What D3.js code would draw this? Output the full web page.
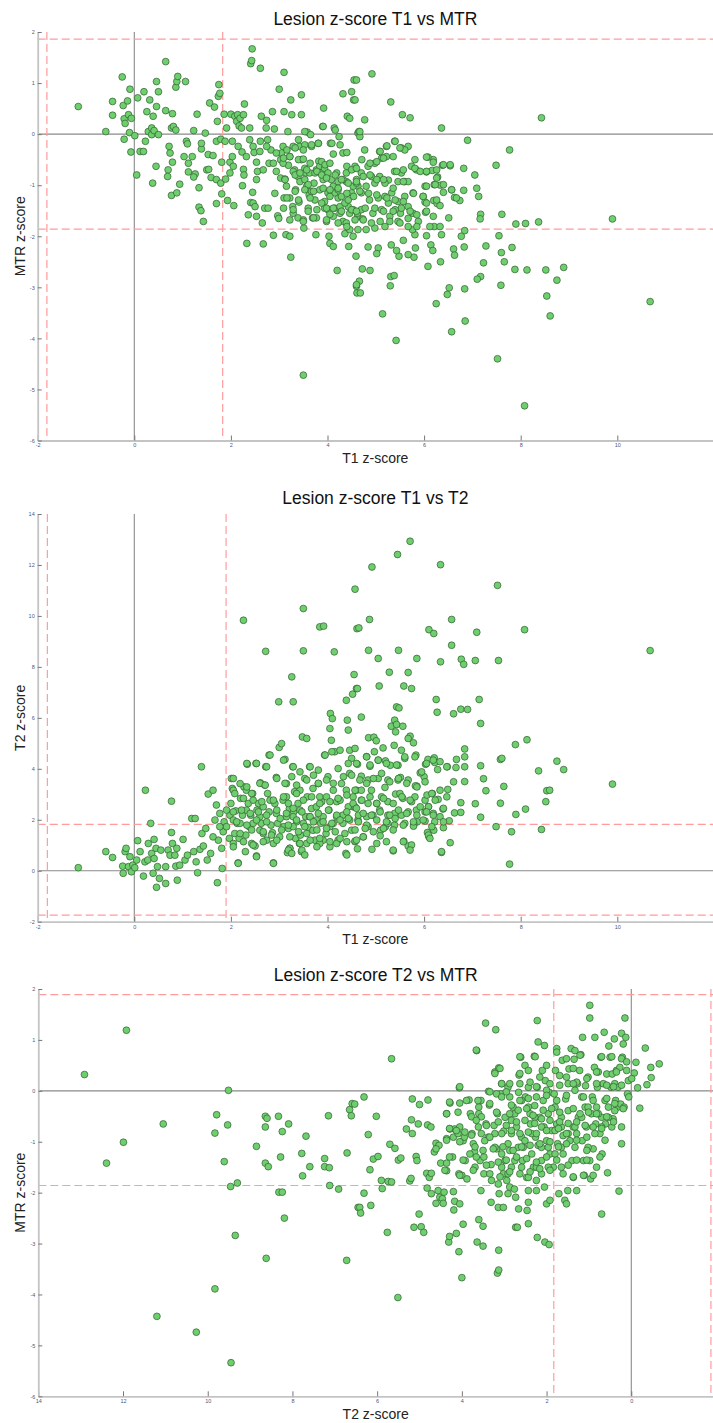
<!DOCTYPE html>
<html>
<head>
<meta charset="utf-8">
<script src="https://cdn.jsdelivr.net/npm/d3@7"></script>
<style>
  body { margin: 0; background: #fff; }
  svg { display: block; font-family: "Liberation Sans", Arial, sans-serif; }
  .tick text { font-size: 5.5px; fill: #50557a; }
  .tick line { stroke: #777; }
  .domain { stroke: #c4c4c4; stroke-width: 1.8; }
</style>
</head>
<body>
<svg id="chart" width="713" height="1423"></svg>
<script>
// titres et labels
const titles = ["Lesion z-score T1 vs MTR", "Lesion z-score T1 vs T2", "Lesion z-score T2 vs MTR"];
const xLabels = ["T1 z-score", "T1 z-score", "T2 z-score"];
const yLabels = ["MTR z-score", "T2 z-score", "MTR z-score"];

// ticks
const ticksT1 = [-2, 0, 2, 4, 6, 8, 10];
const ticksT2x = [14, 12, 10, 8, 6, 4, 2, 0];
const ticksMtr = [2, 1, 0, -1, -2, -3, -4, -5, -6];
const ticksT2y = [14, 12, 10, 8, 6, 4, 2, 0, -2];

// seuils (lignes rouges pointillées)
const t1MtrV = [-1.81, 1.83];
const t1MtrH = [1.86, -1.86];
const t1T2V = [-1.8, 1.9];
const t1T2H = [1.82, -1.74];
const t2MtrV = [1.83, -1.88];
const t2MtrH = [1.89, -1.86];

// points [x, y]
const t1VsMtr = [
[-1.16,0.54],[-0.59,0.05],[-0.45,0.64],[-0.45,0.37],[-0.25,1.12],[-0.23,0.56],[-0.21,0.3],[-0.19,0.21],[-0.21,-0.1],[-0.14,0.65],
[-0.09,0.88],[-0.12,0.38],[-0.06,0.31],[-0.1,0.03],[-0.07,-0.35],[0.01,-0.03],[0.05,-0.8],[0.07,0.71],[0.12,-0.34],[0.19,-0.34],
[0.2,0.83],[0.23,-0.14],[0.26,0.44],[0.32,0.67],[0.29,0.05],[0.36,0.12],[0.36,-0.01],[0.39,0.35],[0.38,-0.96],[0.41,0.07],
[0.46,0.54],[0.46,1.03],[0.5,0.83],[0.45,-0.63],[0.5,-0.01],[0.65,0.46],[0.65,1.42],[0.72,-0.24],[0.74,-0.37],[0.7,-0.7],
[0.69,-0.83],[0.79,0.4],[0.79,-0.55],[0.77,0.12],[0.77,-1.2],[0.81,0.15],[0.86,0.08],[0.88,-1.15],[0.86,0.92],[0.88,1.03],
[0.9,1.13],[0.94,-0.98],[1.03,-0.44],[1.06,1.03],[1.08,-0.14],[1.1,-0.19],[1.12,-0.74],[1.12,-0.57],[1.2,-0.44],[1.23,0.07],
[1.26,-0.78],[1.23,-0.84],[1.3,0.39],[1.34,-1.05],[1.34,-1.43],[1.38,-1.5],[1.43,-1.71],[1.39,-0.29],[1.39,-0.18],[1.47,0.02],
[1.5,-0.7],[1.53,-0.4],[1.54,-0.69],[1.56,0.61],[1.59,-0.85],[1.63,-0.42],[1.66,0.53],[1.7,-1.36],[1.7,-0.89],[1.72,0.25],
[1.74,0.74],[1.75,0.97],[1.77,0.8],[1.7,-0.14],[1.79,-0.1],[1.79,-0.96],[1.81,-0.55],[1.81,-1.17],[1.86,0.39],[1.88,-0.14],
[1.89,-0.88],[1.91,0.12],[1.93,-1.3],[1.98,-0.55],[2.0,0.39],[2.03,-0.14],[2.03,-0.44],[2.06,-1.4],[2.08,0.35],[2.12,0.25],
[2.14,0.38],[2.15,-0.24],[2.17,0.16],[2.19,0.31],[2.22,0.12],[2.23,-0.35],[2.26,0.38],[2.28,0.59],[2.26,-0.69],[2.27,-0.8],
[2.24,-1.01],[2.33,-2.14],[2.36,-1.58],[2.39,0.12],[2.39,-0.11],[2.41,1.38],[2.43,1.44],[2.44,1.67],[2.41,-1.34],[2.45,-1.14],
[2.46,-1.35],[2.48,-0.36],[2.5,-1.42],[2.53,-0.55],[2.53,-1.61],[2.55,-0.73],[2.61,1.29],[2.63,0.35],[2.61,-0.14],[2.65,-1.74],
[2.67,-2.15],[2.7,-1.45],[2.73,0.12],[2.74,0.27],[2.76,-0.11],[2.77,-1.45],[2.79,-0.57],[2.83,-0.31],[2.86,0.44],[2.88,-1.98],
[2.9,0.1],[2.91,-1.16],[2.94,-0.73],[2.97,-1.6],[2.99,-1.65],[3.0,0.88],[3.03,-0.86],[3.03,-0.5],[3.05,-0.37],[3.08,-0.24],
[3.1,1.21],[3.1,-1.25],[3.12,-0.88],[3.1,0.44],[3.14,-1.97],[3.15,-1.02],[3.18,0.05],[3.19,-0.61],[3.22,-2.0],[3.22,-1.25],
[3.24,0.67],[3.24,-2.41],[3.26,0.38],[3.28,-1.42],[3.29,-1.55],[3.29,-0.24],[3.32,-0.7],[3.34,-1.09],[3.36,-0.8],[3.39,-1.64],
[3.41,-1.33],[3.42,-0.24],[3.46,0.77],[3.46,0.38],[3.46,-0.5],[3.5,-1.68],[3.5,-4.72],[3.51,-1.84],[3.53,-0.67],[3.55,-0.76],
[3.57,-1.02],[3.58,0.04],[3.6,-1.45],[3.62,-1.19],[3.63,-0.76],[3.65,-0.01],[3.67,-0.24],[3.69,-1.64],[3.72,-0.96],[3.74,-1.29],
[3.76,-1.97],[3.77,-1.64],[3.81,-0.18],[3.82,-0.53],[3.84,-1.09],[3.88,-0.76],[3.9,0.15],[3.91,-0.89],[3.92,0.51],[3.94,-1.32],
[3.98,-1.71],[4.01,-1.15],[4.03,-2.0],[4.05,-2.14],[4.06,-0.18],[4.08,-0.89],[4.12,-2.2],[4.14,0.12],[4.15,-1.45],[4.19,-0.76],
[4.2,-2.67],[4.22,-1.25],[4.24,-0.05],[4.26,-1.42],[4.32,0.79],[4.32,-0.37],[4.36,-1.95],[4.39,-0.93],[4.41,0.35],[4.43,-1.42],
[4.44,-2.2],[4.46,0.31],[4.5,0.83],[4.54,0.67],[4.55,1.06],[4.57,-0.67],[4.59,-2.39],[4.6,-2.98],[4.61,-3.11],[4.63,0.02],
[4.63,-1.02],[4.63,-1.87],
[3.29,-0.73],[3.39,-0.83],[3.43,-0.93],[3.53,-0.89],[3.6,-0.99],[3.67,-1.12],[3.74,-0.76],[3.77,-0.7],[3.84,-0.63],[3.94,-0.67],
[4.01,-0.76],[4.12,-1.02],[4.15,-1.15],[4.22,-1.09],[4.29,-1.22],[4.36,-1.35],[4.43,-1.29],[4.5,-1.15],[4.53,-1.02],[4.6,-0.89],
[4.39,-0.76],[4.32,-0.89],[4.22,-0.93],[4.05,-1.22],[3.94,-1.45],[3.88,-1.35],[4.26,-1.55],[4.32,-1.71],[4.46,-1.87],[4.53,-2.0],
[4.63,-1.61],[4.46,-1.55],[4.12,-1.61],[4.01,-1.48],[4.05,-1.57],[4.53,-1.48],[4.39,-1.74],[2.46,-0.24],[2.6,-0.34],[2.74,-0.24],
[2.94,-0.37],[3.08,-0.57],[3.22,-0.44],[2.88,-0.57],[2.67,-0.7],[2.53,-0.89],[2.32,-0.44],[2.05,-0.63],[1.98,-0.76],
[4.6,1.06],[4.92,1.18],[4.57,0.67],[4.77,0.28],[4.65,0.05],[4.67,-0.05],[5.31,0.63],[5.55,0.38],[5.71,0.32],[6.36,0.12],
[8.43,0.32],[6.9,-0.12],[7.77,-0.31],[7.49,-0.61],[7.05,-0.8],[6.82,-0.67],[7.09,-1.06],[7.13,-1.22],[6.82,-1.1],[6.63,-1.24],
[6.74,-1.3],[6.57,-1.09],[6.38,-0.61],[6.54,-0.62],[6.4,-1.14],[6.34,-1.0],[6.21,-0.99],[6.19,-0.5],[6.08,-0.45],[6.05,-0.74],
[6.17,-0.71],[6.28,-0.84],[6.02,-1.02],[5.98,-1.22],[6.02,-1.33],[6.2,-1.3],[6.27,-1.36],[6.33,-1.4],[6.03,-1.53],[6.51,-1.64],
[7.17,-1.57],[7.16,-1.66],[7.61,-1.57],[7.9,-1.76],[8.1,-1.75],[8.37,-1.72],[9.9,-1.66],[7.55,-1.99],[7.28,-2.19],[6.84,-1.89],
[6.77,-2.0],[6.83,-2.21],[6.61,-2.25],[6.63,-2.37],[6.34,-2.5],[6.08,-2.59],[6.36,-1.97],[6.21,-1.81],[6.05,-1.99],[6.14,-2.17],
[6.18,-2.28],[5.82,-2.23],[5.79,-2.41],[5.67,-2.36],[5.48,-2.39],[5.43,-2.28],[5.32,-2.17],[5.57,-2.08],[5.81,-1.97],[5.76,-1.87],
[7.23,-2.52],[7.6,-2.32],[7.66,-2.5],[7.82,-2.22],[7.59,-2.96],[7.88,-2.65],[8.13,-2.66],[8.52,-2.66],[8.89,-2.61],[8.75,-2.86],
[8.54,-3.17],[8.61,-3.56],[10.68,-3.28],[7.17,-2.79],[7.1,-2.84],[6.84,-3.03],[6.52,-3.01],[6.48,-3.14],[6.25,-3.32],[6.85,-3.66],
[6.57,-3.87],[5.42,-4.04],[5.14,-3.52],[7.52,-4.4],[8.08,-5.32],[5.31,-2.79],[5.38,-2.77],[5.3,-2.97],[4.88,-2.67],[4.72,-2.64],
[4.66,-2.88],[4.68,-3.11],[4.6,-2.95],[4.84,-2.21],[5.05,-2.23],[5.02,-2.34],[5.29,-1.61],[5.46,-1.71],[5.67,-1.65],[5.88,-1.71],
[5.77,-1.55],[5.51,-1.55],[5.19,-1.81],[4.98,-1.84],[4.8,-1.87],[4.73,-1.66],[4.62,-1.55],[4.87,-1.29],[5.05,-1.25],[5.19,-1.22],
[5.26,-1.35],[5.46,-1.32],[5.53,-1.45],[5.4,-1.48],[5.67,-1.42],[5.77,-1.15],[5.6,-1.22],[5.12,-1.48],[4.94,-1.55],[4.7,-1.48],
[4.7,-1.15],[4.8,-1.02],[4.98,-0.96],[4.91,-0.83],[4.7,-0.76],[4.84,-0.63],[4.98,-0.57],[5.12,-0.47],[5.22,-0.44],[5.08,-0.34],
[5.22,-0.24],[5.39,-0.14],[5.53,-0.27],[5.67,-0.24],[5.6,-0.31],[5.36,-0.44],[5.39,-0.73],[5.53,-0.76],[5.46,-0.93],[5.6,-0.93],
[5.67,-0.93],[5.74,-0.63],[5.81,-0.5],[5.84,-0.7],[5.26,-0.9],[5.19,-0.96],[5.08,-0.83],[5.33,-1.15],[4.6,-0.96],[4.57,-0.63],
[4.77,-0.31],
[3.4,-0.11],[3.53,-0.21],[3.67,-0.21],[3.81,-0.18],[3.16,-0.31],[3.33,-0.27],[3.5,-0.31],[4.09,-0.18],[4.26,-0.21],[4.4,-0.36],
[4.12,-0.39],[5.09,-0.34],[5.23,-0.23],[5.4,-0.14],[5.5,-0.27],[6.05,-0.45],[6.19,-0.55],[3.09,-0.47],[3.22,-0.44],[3.4,-0.5],
[3.5,-0.49],[3.64,-0.57],[3.88,-0.54],[3.95,-0.6],[4.05,-0.57],[4.4,-0.63],[4.5,-0.7],[4.6,-0.67],[4.71,-0.5],[4.88,-0.57],
[5.02,-0.54],[5.16,-0.47],[5.81,-0.67],[5.92,-0.73],[5.43,-0.73],[5.57,-0.7],[6.05,-0.73],[6.26,-0.7],[6.4,-0.6],[6.54,-0.6],
[3.12,-0.89],[3.33,-0.8],[3.43,-0.76],[3.57,-0.7],[3.78,-0.73],[3.88,-0.8],[3.98,-0.86],[4.16,-0.8],[4.29,-0.89],[4.43,-0.96],
[4.6,-0.93],[4.74,-0.83],[4.88,-0.8],[5.02,-0.89],[5.16,-0.89],[5.36,-1.06],[5.57,-0.93],[6.26,-0.86],[6.23,-0.99],[6.4,-0.99],
[6.57,-1.09],[6.05,-1.02],[3.16,-1.25],[3.33,-1.12],[3.53,-1.09],[3.71,-1.12],[3.91,-1.06],[4.05,-1.09],[4.22,-1.06],[4.4,-1.16],
[4.54,-1.22],[4.67,-1.12],[4.85,-1.16],[5.02,-1.19],[5.23,-1.25],[5.4,-1.29],[5.57,-1.32],[5.78,-1.16],[5.98,-1.22],[6.26,-1.29],
[6.05,-1.35],[6.67,-1.25],[3.64,-1.25],[3.4,-1.29],[3.09,-1.45],[3.29,-1.48],[3.6,-1.51],[3.78,-1.48],[3.98,-1.45],[4.12,-1.45],
[4.29,-1.51],[4.5,-1.48],[4.6,-1.51],[4.78,-1.45],[4.98,-1.45],[5.16,-1.51],[5.36,-1.51],[5.71,-1.51],[5.85,-1.58],[6.05,-1.51],
[6.19,-1.61],[3.22,-1.68],[3.5,-1.71],[3.71,-1.64],[3.98,-1.68],[4.22,-1.74],[4.4,-1.81],[4.57,-1.68],[4.74,-1.68],[4.91,-1.74],
[5.09,-1.71],[5.29,-1.71],[5.5,-1.74],[5.67,-1.81],[5.85,-1.81],[6.12,-1.81],[6.33,-1.81],[3.91,0.15],[4.16,0.08],[4.67,0.05],
[3.53,0.05]
];

const t1VsT2 = [
[-1.16,0.12],[-0.59,0.75],[-0.45,0.52],[-0.23,-0.1],[-0.24,0.18],[-0.19,0.75],[-0.17,0.88],[-0.12,0.16],[-0.09,0.55],[-0.06,-0.04],
[-0.03,0.22],[0.01,0.12],[0.05,0.42],[0.07,1.18],[0.12,0.75],[0.19,-0.21],[0.22,0.35],[0.23,3.16],[0.29,1.07],[0.28,0.42],
[0.34,1.86],[0.36,0.68],[0.41,0.48],[0.39,-0.1],[0.41,1.23],[0.45,0.88],[0.46,-0.65],[0.48,0.16],[0.52,-0.3],[0.55,0.81],
[0.65,-0.5],[0.65,0.16],[0.7,0.81],[0.74,0.61],[0.77,2.73],[0.77,1.5],[0.79,1.07],[0.84,0.61],[0.88,0.88],[0.86,0.18],
[0.89,-0.37],[0.94,0.22],[1.01,1.23],[1.05,0.42],[1.1,0.61],[1.19,2.05],[1.26,2.05],[1.23,0.75],[1.28,0.35],[1.31,-0.08],
[1.36,0.84],[1.39,4.08],[1.4,1.46],[1.43,0.97],[1.48,1.66],[1.51,0.42],[1.53,3.01],[1.58,0.68],[1.63,3.16],[1.67,1.99],
[1.7,2.58],[1.72,-0.47],[1.74,1.2],[1.77,2.25],[1.81,0.88],[1.82,0.09],[1.84,1.53],[1.86,1.92],[1.91,1.73],[1.97,1.27],
[1.98,2.18],[2.0,2.64],[2.01,3.62],[2.03,3.23],[2.05,1.07],[2.08,1.46],[2.1,2.35],[2.13,1.86],[2.15,0.31],[2.17,1.27],
[2.2,2.84],[2.24,2.18],[2.26,9.83],[2.27,3.29],[2.3,0.75],[2.31,1.4],[2.34,4.18],[2.36,2.64],[2.38,1.73],[2.41,2.18],
[2.43,1.07],[2.45,3.03],[2.47,1.01],[2.5,0.97],[2.52,4.21],[2.53,0.58],[2.54,2.38],[2.57,2.64],[2.6,1.59],[2.61,3.45],
[2.63,1.86],[2.67,1.46],[2.72,8.61],[2.7,3.36],[2.72,4.08],[2.74,1.2],[2.76,3.03],[2.79,4.54],[2.79,2.31],[2.83,1.79],
[2.86,1.49],[2.88,0.31],[2.91,2.64],[2.94,3.66],[2.97,1.86],[2.99,6.63],[3.0,4.84],[3.05,4.99],[3.08,2.77],[3.1,1.73],
[3.12,4.37],[3.15,3.42],[3.17,0.71],[3.19,1.66],[3.21,2.44],[3.22,0.88],[3.26,7.61],[3.28,4.08],[3.29,6.63],[3.3,2.31],
[3.32,3.1],[3.34,1.27],[3.36,1.92],[3.39,2.64],[3.42,1.07],[3.44,1.4],[3.46,0.75],[3.5,10.29],[3.5,8.63],[3.48,5.25],
[3.57,5.19],[3.53,3.62],[3.55,2.12],[3.58,2.9],[3.6,1.7],[3.63,4.08],[3.67,2.44],[3.7,3.23],[3.74,1.2],[3.77,1.99],
[3.81,3.42],[3.84,9.57],[3.86,1.86],[3.88,2.71],[3.92,9.6],[3.94,4.54],[3.97,1.46],[4.01,3.69],[4.03,2.38],[4.05,5.58],
[4.06,6.17],[4.08,5.12],[4.1,5.97],[4.12,1.86],[4.14,8.59],[4.15,4.67],[4.19,2.71],[4.22,1.2],[4.26,4.73],[4.29,3.42],
[4.32,2.18],[4.38,0.68],[4.39,6.69],[4.41,5.91],[4.43,5.52],[4.46,4.73],[4.46,3.82],[4.5,4.41],[4.52,6.93],[4.55,7.7],
[4.57,11.05],[4.6,7.15],[4.61,9.5],[4.57,1.14],[4.6,3.16],[4.53,2.51],[4.63,1.99],
[2.05,3.16],[2.19,3.42],[2.32,3.16],[2.46,2.77],[2.67,2.51],[2.81,2.77],[2.94,2.25],[3.15,2.9],[3.29,2.12],[3.43,2.38],
[3.5,1.86],[3.63,2.12],[3.77,2.51],[3.84,2.9],[3.91,2.12],[4.05,1.73],[4.19,2.12],[4.32,1.86],[4.46,1.99],[4.53,2.9],
[4.39,3.16],[4.26,2.77],[4.12,3.16],[3.98,2.9],[3.91,1.2],[3.7,1.59],[3.57,1.07],[3.43,3.16],[3.29,1.73],[3.15,2.12],
[3.01,1.33],[2.88,1.07],[2.6,2.12],[2.46,1.86],[2.32,2.38],[2.19,1.86],[2.05,1.99],[1.91,2.38],[1.77,1.73],[1.63,1.33],
[4.43,2.51],[4.5,1.59],[4.19,1.07],[4.05,0.94],[3.84,1.07],
[5.71,12.93],[5.45,12.41],[4.92,11.92],[6.34,12.01],[7.52,11.2],[4.87,9.86],[6.57,9.86],[4.65,9.53],[6.1,9.46],[6.2,9.31],
[7.09,9.36],[8.08,9.46],[6.57,8.85],[4.85,8.65],[5.47,8.65],[10.68,8.64],[5.05,8.33],[5.85,8.33],[6.34,8.2],[6.77,8.3],
[6.82,8.1],[7.06,8.25],[7.54,8.25],[5.28,7.79],[5.67,7.78],[4.62,7.15],[5.07,7.25],[5.58,7.25],[5.74,7.15],[6.25,6.72],
[7.14,6.72],[6.27,6.22],[6.61,6.16],[6.76,6.34],[6.9,6.33],[7.17,5.78],[4.7,6.03],[5.43,6.43],[5.48,6.39],[5.39,5.91],
[5.32,5.67],[5.43,5.74],[5.56,5.67],[5.41,5.45],[4.85,5.22],[4.96,5.24],[5.71,5.28],[5.67,5.19],[5.78,5.02],[5.01,5.1],
[7.89,4.95],[8.13,5.14],[4.57,4.8],[5.15,4.82],[5.38,4.92],[5.53,4.73],[5.83,4.54],[5.6,4.41],[4.81,4.48],[4.97,4.67],
[5.05,4.34],[5.2,4.31],[5.3,4.14],[5.46,4.14],[4.88,4.1],[4.62,4.18],[6.03,4.18],[6.08,4.37],[6.21,4.43],[6.28,3.97],
[6.22,4.25],[6.48,4.08],[6.66,4.05],[6.67,4.37],[6.84,4.78],[6.84,4.47],[6.84,4.08],[7.17,4.12],[7.58,4.37],[7.61,4.41],
[8.75,4.3],[8.37,3.92],[8.89,3.97],[9.9,3.4],[7.23,3.61],[7.65,3.31],[7.28,3.14],[6.61,3.49],[6.84,3.5],[6.49,3.19],
[6.0,3.69],[5.92,3.84],[5.85,3.32],[5.82,3.33],[5.67,3.56],[5.51,3.66],[5.46,3.56],[5.25,3.56],[5.05,3.62],[4.84,3.56],
[4.7,3.71],[4.7,3.16],[4.57,3.16],[4.91,3.16],[5.19,3.27],[5.12,2.9],[5.25,2.71],[5.41,3.01],[5.5,3.03],[5.56,2.84],
[5.74,2.71],[5.81,2.9],[6.02,2.77],[6.06,2.97],[6.17,3.03],[6.29,2.8],[6.39,2.42],[6.09,2.51],[6.02,2.31],[6.19,2.25],
[5.84,2.38],[5.67,2.31],[5.53,2.18],[5.39,2.25],[5.25,2.18],[5.08,2.38],[4.94,2.18],[4.81,2.12],[4.64,2.18],[4.57,2.51],
[4.84,2.64],[4.7,2.77],[5.02,2.64],[6.63,2.27],[6.76,2.29],[6.76,2.67],[7.06,2.63],[7.17,2.1],[7.58,2.65],[7.9,2.21],
[8.1,2.42],[8.52,2.71],[8.54,3.14],[8.6,3.16],[7.49,1.73],[7.81,1.53],[8.43,1.62],[7.77,0.26],[6.54,1.1],[6.36,0.72],
[6.4,1.69],[6.2,1.59],[6.07,1.5],[6.1,1.33],[6.02,1.95],[6.22,1.92],[6.52,1.96],[5.86,1.92],[5.79,1.82],[5.78,1.75],
[5.58,1.16],[5.67,0.97],[5.36,0.78],[4.92,0.84],[4.62,0.86],[4.57,1.16],[4.84,1.73],[5.1,1.59],[5.2,1.73],[5.09,1.37],
[4.74,1.33],[5.39,1.79],[5.6,1.86],[5.25,1.86],
[2.33,4.21],[2.53,4.21],[2.74,4.08],[2.81,4.54],[3.09,4.34],[3.29,4.08],[3.43,3.88],[3.64,4.08],[3.81,3.95],[3.95,4.54],
[4.09,4.67],[4.22,4.01],[4.43,4.21],[4.6,4.21],[4.81,4.47],[4.88,4.15],[5.05,4.34],[5.22,4.21],[5.43,4.15],[5.6,4.47],
[5.81,4.47],[5.95,3.88],[6.05,4.21],[6.19,4.34],[6.33,4.28],[6.47,4.08],[2.05,3.62],[2.33,3.29],[2.6,3.43],[2.71,3.36],
[2.95,3.62],[3.12,3.43],[3.26,3.69],[3.36,3.36],[3.57,3.56],[3.71,3.75],[3.81,3.43],[3.98,3.56],[4.12,3.43],[4.33,3.69],
[4.5,3.75],[4.67,3.56],[4.81,3.43],[4.95,3.62],[5.12,3.82],[5.29,3.49],[5.47,3.62],[5.64,3.43],[5.85,3.29],[6.02,3.49],
[6.16,3.03],[6.33,3.16],[6.47,2.9],[2.08,3.03],[2.26,2.84],[2.43,3.03],[2.64,2.71],[2.88,2.77],[3.09,2.9],[3.19,2.64],
[3.36,3.03],[3.5,2.77],[3.67,2.9],[3.84,2.64],[4.05,2.71],[4.22,2.84],[4.4,2.97],[4.53,2.64],[4.71,2.77],[4.88,2.9],
[5.02,2.64],[5.16,2.84],[5.36,2.64],[5.54,2.9],[5.71,2.77],[5.92,2.51],[6.09,2.51],[6.23,2.77],[6.4,2.45],[2.05,2.31],
[2.22,2.38],[2.4,2.25],[2.57,2.31],[2.74,2.18],[2.95,2.38],[3.15,2.25],[3.29,2.45],[3.47,2.31],[3.64,2.12],[3.81,2.25],
[4.02,2.38],[4.19,2.18],[4.4,2.31],[4.6,2.45],[4.74,2.25],[4.91,2.18],[5.09,2.31],[5.29,2.18],[5.47,2.38],[5.64,2.25],
[5.85,2.18],[6.05,2.31],[6.19,2.18],[6.33,2.12],[2.12,1.92],[2.33,1.79],[2.53,1.99],[2.74,1.92],[3.02,2.05],[3.19,1.79],
[3.36,1.99],[3.53,1.73],[3.71,1.92],[3.91,1.92],[4.09,1.86],[4.26,1.99],[4.43,2.05],[4.64,1.92],[4.81,1.79],[5.02,1.99],
[5.22,1.92],[5.4,2.05],[5.57,1.79],[5.78,1.92],[5.98,1.99],[6.16,1.73],[6.4,1.92],[2.19,1.46],[2.43,1.6],[2.67,1.53],
[2.84,1.4],[3.05,1.6],[3.22,1.33],[3.4,1.53],[3.57,1.46],[3.78,1.6],[3.98,1.66],[4.16,1.53],[4.36,1.46],[4.57,1.6],
[4.78,1.66],[4.95,1.53],[5.16,1.66],[5.36,1.6],[6.09,1.4],[2.05,0.94],[2.26,1.14],[2.46,1.01],[2.67,1.14],[2.95,1.2],
[3.22,0.88],[3.43,1.07],[3.64,1.2],[3.84,1.27],[4.05,1.14],[4.26,1.27],[4.4,1.14],[4.6,1.2],[4.74,1.33],[5.02,1.07],
[5.22,1.14],[5.57,1.14],[5.74,1.01],[6.12,1.27],[2.15,0.29],[2.53,0.55],[2.88,0.29],[3.19,0.81],[3.26,0.68],[3.47,0.81],
[3.53,0.62],[3.78,0.94],[4.4,0.62],[5.36,0.81],[5.71,0.81],[6.36,0.75]
];

const t2VsMtr = [
[12.91,0.32],[11.92,1.19],[12.39,-1.42],[11.99,-1.01],[11.05,-0.65],[11.2,-4.43],[10.27,-4.74],[9.83,-3.89],[9.45,-5.34],[9.35,-2.84],
[9.3,-1.81],[9.46,-1.88],[9.61,-1.39],[9.83,-0.83],[9.79,-0.47],[9.53,-0.67],[9.51,0.01],[8.85,-1.09],[8.64,-0.5],[8.6,-0.54],
[8.64,-0.71],[8.64,-1.42],[8.57,-1.49],[8.62,-3.29],[8.33,-0.5],[8.24,-0.8],[8.09,-0.65],[8.28,-1.3],[8.32,-1.99],[8.24,-1.99],
[8.19,-2.5],[7.78,-1.23],[7.68,-0.89],[7.76,-1.67],[7.59,-1.49],[7.24,-1.33],[7.24,-1.49],[7.13,-1.51],[7.15,-0.49],[7.12,-1.86],
[6.91,-1.93],[6.72,-3.33],[6.71,-1.22],[6.65,-0.37],[6.59,-0.25],[6.61,-0.49],[6.45,-2.29],
[6.31,-0.12],[6.53,-0.26],[6.02,-0.5],[6.21,-0.86],[5.66,0.63],[5.7,-1.05],[5.58,-1.13],[5.5,-1.36],[5.44,-1.32],[6.09,-1.34],
[5.98,-1.29],[6.17,-1.55],[5.9,-1.76],[5.88,-1.92],[5.74,-1.78],[5.66,-1.79],[5.23,-1.77],[5.2,-1.72],[5.08,-1.29],[5.06,-1.37],
[5.31,-0.75],[5.17,-0.84],[5.19,-0.57],[5.03,-0.65],[4.81,-0.67],[4.73,-0.71],[5.17,-0.16],[5.0,-0.27],[4.8,-0.18],[6.31,-2.01],
[6.41,-2.29],[6.39,-2.4],[6.15,-2.25],[5.76,-2.78],[5.01,-2.42],[5.13,-2.68],[4.96,-2.67],[4.9,-2.78],[5.51,-4.06],[4.31,-2.97],
[4.29,-2.86],[4.13,-2.8],[4.07,-3.16],[3.97,-2.62],[4.0,-3.67],[3.64,-2.97],[3.5,-3.05],[3.13,-3.13],[3.16,-3.58],[3.13,-3.52],
[3.6,-2.53],[3.5,-2.66],[2.73,-2.68],[2.69,-2.68],[2.43,-2.61],[2.22,-2.88],[2.04,-2.97],[1.94,-3.02],[0.7,-2.42],[0.29,-1.97],
[4.83,-1.62],[4.77,-1.7],[4.72,-1.62],[4.82,-1.91],[4.72,-2.02],[4.61,-2.21],[4.56,-1.96],[4.52,-2.09],[4.46,-2.12],[4.42,-1.99],
[4.44,-2.21],[4.36,-1.57],[4.2,-1.98],[4.17,-2.17],[4.19,-2.34],[4.05,-2.22],[4.5,-1.42],[4.36,-1.42],[4.22,-1.3],[4.28,-0.75],
[4.17,-0.75],[4.05,-0.71],[4.28,-0.24],[4.36,-0.45],[4.61,-1.03],[4.54,-1.07],[4.65,-1.2],[4.61,-1.14],[4.36,-0.94],[4.2,-0.91],
[3.97,-0.98],[4.09,-0.84],[3.94,-0.91],[4.05,-0.24],[4.06,0.06],[3.8,-0.45],[3.83,-0.18],[4.07,-1.63],[4.0,-1.66],[3.88,-1.73],
[3.92,-1.37],[3.76,-0.84],[3.73,-1.04],[3.7,-1.2],[3.65,0.79],[3.6,-0.32],[3.6,-0.45],[3.55,-0.19],[3.55,-1.96],[3.57,-1.37],
[3.48,-1.3],[3.48,-1.63],[3.44,1.33],[3.43,-0.65],[3.37,-0.01],[3.35,-0.28],[3.31,-2.19],[3.31,-1.45],[3.2,1.2],[3.24,-0.68],
[3.22,0.37],[3.16,-0.45],[3.18,-1.14],[3.14,-2.29],[3.12,-2.02],[3.13,0.45],[3.08,-0.06],[3.06,0.14],[3.02,-2.29],[3.01,-0.79],
[2.98,-1.37],[3.02,-1.63],[2.94,-1.76],[2.91,0.07],[2.87,-0.12],[2.87,-1.17],[2.87,-1.89],[2.83,-0.84],[2.83,-1.5],[2.79,-0.32],
[2.76,-1.93],[2.75,-0.45],[2.73,-2.09],[2.71,-0.71],[2.66,-2.32],[2.66,-0.03],[2.65,0.31],[2.61,0.66],[2.59,-0.91],[2.57,-1.37],
[2.55,-1.11],[2.51,0.5],[2.5,-0.12],[2.47,-1.7],[2.46,-2.35],[2.43,-2.19],[2.43,0.07],[2.39,-0.45],[2.38,-0.65],[2.35,-1.24],
[2.31,-1.5],[2.29,0.68],[2.28,-0.29],[2.26,-0.91],[2.24,-1.76],[2.24,-1.96],[2.22,1.38],[2.22,0.07],[2.2,0.96],[2.2,-1.07],
[2.16,-0.52],[2.12,-1.37],[2.12,-1.63],[2.1,0.4],[2.08,-0.19],[2.06,-0.71],[2.05,0.89],[2.05,-1.89],[2.03,0.2],[2.0,-0.98],
[2.0,-2.22],[1.96,-0.45],[1.94,-0.03],[1.92,-1.24],[1.92,-2.15],[1.88,-0.78],[1.84,-1.5],[1.82,-0.06],[1.8,-0.32],[1.79,0.4],
[1.76,0.83],[1.76,-0.65],[1.74,-1.04],[1.71,-2.02],[1.69,0.3],[1.65,-0.52],[1.63,0.6],[1.61,-0.88],[1.61,-1.24],[1.57,-2.15],
[1.55,-0.16],[1.53,-2.22],[1.5,-1.96],[1.49,0.14],[1.49,-0.39],[1.47,0.43],[1.45,-0.98],[1.42,0.83],[1.4,-1.37],[1.37,-0.71],
[1.37,-1.7],[1.35,0.62],[1.33,0.79],[1.33,0.01],[1.29,-1.96],[1.27,0.14],[1.25,-0.52],[1.22,0.4],[1.19,0.71],[1.17,-0.12],
[1.16,-0.98],[1.15,1.05],[1.13,-1.37],[1.11,-1.66],[1.09,-0.32],[1.08,0.1],[1.06,-0.71],[1.02,0.27],[0.98,1.43],[0.98,1.68],
[0.98,-1.37],[0.96,-1.73],[0.94,-0.45],[0.92,-0.12],[0.9,-1.14],[0.87,0.46],[0.86,1.05],[0.84,-0.65],[0.82,-0.32],[0.8,0.07],
[0.78,0.37],[0.74,-0.84],[0.72,0.66],[0.7,-0.52],[0.69,-1.24],[0.66,0.14],[0.64,1.15],[0.62,-0.19],[0.61,-0.65],[0.58,0.33],
[0.56,-1.61],[0.54,-0.32],[0.53,0.88],[0.5,0.66],[0.48,0.07],[0.46,-0.71],[0.45,0.33],[0.43,-0.55],[0.4,1.02],[0.39,0.14],
[0.37,-0.19],[0.35,0.4],[0.32,-0.32],[0.31,0.07],[0.27,0.46],[0.25,-0.26],[0.23,1.13],[0.23,-1.04],[0.21,0.66],[0.19,0.92],
[0.17,-0.32],[0.15,1.43],[0.13,1.05],[0.11,0.4],[0.09,-0.06],[0.07,0.2],[0.06,-0.12],[-0.07,0.35],[-0.11,0.56],[-0.15,0.06],
[-0.2,-0.34],[-0.33,0.84],[-0.37,0.12],[-0.46,0.46],[-0.47,0.26],[-0.66,0.53],
[3.38,-0.91],[3.22,-1.11],[3.06,-1.24],[2.91,-1.04],[2.75,-1.37],[2.59,-1.5],[2.43,-1.7],[3.06,-1.5],[2.91,-1.63],[2.67,-1.11],
[2.51,-0.98],[2.35,-0.84],[2.12,-1.11],[1.96,-1.11],[1.8,-1.24],[1.65,-1.11],[1.49,-0.84],[1.33,-0.71],[1.17,-0.52],[1.02,-0.32],
[0.78,-0.45],[2.12,-0.71],[2.28,-0.52],[2.43,-0.32],[2.59,-0.19],[2.83,-0.58],[2.98,-0.52],[3.22,-0.84],[3.46,-0.98],[3.61,-0.71],
[3.81,-1.24],[3.69,-1.5],[3.3,-1.76],[3.14,-1.83],[2.91,-2.02],[2.43,-1.96],[2.24,-1.5],[1.96,-1.5],[1.65,-1.5],[1.33,-1.11],
[1.02,-1.11],[0.86,-0.84],[0.7,-0.71],[0.54,-0.52],[0.39,-0.39],[1.8,-0.78],[1.65,-0.71],
[3.66,0.8],[2.63,0.67],[2.27,0.67],[3.1,0.44],[3.22,0.34],[2.63,0.34],[2.43,0.4],[2.0,0.5],[1.76,0.76],[1.53,0.63],
[1.37,0.44],[1.21,0.7],[0.7,0.67],[0.46,0.67],[0.23,0.63],[0.11,0.57],[0.35,0.37],[0.82,0.37],[1.05,0.24],[1.29,0.17],
[1.53,0.27],[2.16,0.27],[1.92,0.14],[2.39,0.17],[2.63,0.14],[2.87,0.14],[3.06,0.14],[4.05,0.08],[3.34,-0.02],[3.18,-0.06],
[2.95,-0.02],[2.24,0.08],[2.0,0.01],[1.69,0.11],[1.37,0.14],[0.82,0.14],[0.58,0.11],[0.42,0.08],[0.23,0.11],[-0.01,0.24],
[4.29,-0.22],[3.89,-0.19],[3.62,-0.19],[3.34,-0.25],[3.06,-0.12],[2.83,-0.28],[2.63,-0.19],[2.43,-0.15],[2.24,-0.12],[2.0,-0.09],
[1.76,-0.19],[1.53,-0.09],[1.13,-0.12],[0.9,-0.19],[0.58,-0.15],[0.39,-0.25],[0.19,-0.35],[4.36,-0.45],[4.09,-0.42],[3.77,-0.51],
[3.54,-0.51],[3.18,-0.42],[2.87,-0.45],[2.67,-0.38],[2.47,-0.35],[2.32,-0.48],[2.08,-0.38],[1.88,-0.35],[1.69,-0.42],[1.37,-0.35],
[1.21,-0.45],[1.01,-0.42],[0.82,-0.45],[0.58,-0.51],[0.42,-0.61],[0.23,-0.71],[3.66,-0.58],[3.42,-0.68],[3.14,-0.61],[2.95,-0.68],
[2.71,-0.61],[2.51,-0.58],[2.28,-0.64],[2.12,-0.55],[1.92,-0.58],[1.69,-0.61],[1.49,-0.64],[1.29,-0.61],[1.09,-0.68],[0.9,-0.71],
[0.7,-0.74],[4.29,-0.74],[4.13,-0.78],[3.93,-0.81],[3.77,-0.87],[3.54,-0.84],[3.34,-0.91],[3.06,-0.84],[2.83,-0.78],[2.63,-0.84],
[2.43,-0.81],[2.24,-0.84],[2.0,-0.78],[1.72,-0.74],[1.53,-0.84],[1.29,-0.84],[1.05,-0.91],[0.62,-0.97],[4.36,-0.97],[4.05,-1.0],
[3.69,-1.1],[3.5,-1.17],[3.26,-1.14],[3.03,-1.1],[2.79,-1.17],[2.59,-1.1],[2.39,-1.07],[2.16,-1.04],[1.92,-1.0],[1.72,-1.1],
[1.53,-1.04],[1.29,-0.97],[1.05,-1.17],[0.74,-1.3],[4.29,-1.3],[3.97,-1.36],[3.66,-1.3],[3.42,-1.46],[3.14,-1.4],[2.95,-1.36],
[2.71,-1.3],[2.47,-1.33],[2.24,-1.4],[2.0,-1.3],[1.76,-1.36],[1.49,-1.46],[1.29,-1.36],[1.05,-1.36],[0.82,-1.5],[4.4,-1.56],
[4.05,-1.66],[3.73,-1.56],[3.34,-1.63],[3.1,-1.69],[2.87,-1.59],[2.63,-1.63],[2.39,-1.59],[2.16,-1.53],[1.92,-1.56],[1.61,-1.63],
[1.37,-1.69],[1.13,-1.66],[0.9,-1.66]
];

// mise en page des trois panneaux
const panels = [
    { points: t1VsMtr, xDomain: [-2, 12], yDomain: [-6, 2], xTicks: ticksT1, yTicks: ticksMtr,
      vLines: t1MtrV, hLines: t1MtrH, left: 37.7, right: 713.9, top: 32, bottom: 440.5, titleY: 25 },
    { points: t1VsT2, xDomain: [-2, 12], yDomain: [-2, 14], xTicks: ticksT1, yTicks: ticksT2y,
      vLines: t1T2V, hLines: t1T2H, left: 37.7, right: 713.9, top: 514, bottom: 921.7, titleY: 503.5 },
    { points: t2VsMtr, xDomain: [14, -2], yDomain: [-6, 2], xTicks: ticksT2x, yTicks: ticksMtr,
      vLines: t2MtrV, hLines: t2MtrH, left: 38.3, right: 716, top: 989, bottom: 1396.3, titleY: 981 }
];

const svg = d3.select("#chart");

panels.forEach((p, i) => {
    const x = d3.scaleLinear().domain(p.xDomain).range([p.left, p.right]);
    const y = d3.scaleLinear().domain(p.yDomain).range([p.bottom, p.top]);
    const g = svg.append("g");

    // lignes zéro
    g.append("line")
        .attr("x1", x(0)).attr("x2", x(0))
        .attr("y1", p.top).attr("y2", p.bottom)
        .attr("stroke", "#8a8a8a").attr("stroke-width", 1.1);
    g.append("line")
        .attr("x1", p.left).attr("x2", p.right)
        .attr("y1", y(0)).attr("y2", y(0))
        .attr("stroke", "#8a8a8a").attr("stroke-width", 1.1);

    // seuils rouges
    g.selectAll(".vthr")
        .data(p.vLines)
        .join("line")
        .attr("x1", d => x(d)).attr("x2", d => x(d))
        .attr("y1", p.top).attr("y2", p.bottom)
        .attr("stroke", "#ff9c9c").attr("stroke-width", 1.2)
        .attr("stroke-dasharray", "8,4");
    g.selectAll(".hthr")
        .data(p.hLines)
        .join("line")
        .attr("x1", p.left).attr("x2", p.right)
        .attr("y1", d => y(d)).attr("y2", d => y(d))
        .attr("stroke", "#ff9c9c").attr("stroke-width", 1.2)
        .attr("stroke-dasharray", "8,4");

    // axes
    g.append("g")
        .attr("transform", `translate(0,${p.bottom})`)
        .call(d3.axisBottom(x).tickValues(p.xTicks).tickFormat(d => String(d))
            .tickSizeInner(-5).tickSizeOuter(0).tickPadding(3));
    g.append("g")
        .attr("transform", `translate(${p.left},0)`)
        .call(d3.axisLeft(y).tickValues(p.yTicks).tickFormat(d => String(d))
            .tickSizeInner(-4).tickSizeOuter(0).tickPadding(3));

    // points
    g.selectAll("circle")
        .data(p.points)
        .join("circle")
        .attr("cx", d => x(d[0]))
        .attr("cy", d => y(d[1]))
        .attr("r", 3.4)
        .attr("fill", "#6fcf6f")
        .attr("stroke", "#2f5f2f")
        .attr("stroke-width", 0.7);

    // textes
    const cx = (p.left + 713) / 2;
    g.append("text")
        .attr("x", cx).attr("y", p.titleY)
        .attr("text-anchor", "middle")
        .attr("font-size", 17.5)
        .attr("fill", "#111")
        .text(titles[i]);
    g.append("text")
        .attr("x", cx).attr("y", p.bottom + 22.5)
        .attr("text-anchor", "middle")
        .attr("font-size", 14)
        .attr("fill", "#222")
        .text(xLabels[i]);
    g.append("text")
        .attr("transform", `translate(25,${(p.top + p.bottom) / 2}) rotate(-90)`)
        .attr("text-anchor", "middle")
        .attr("font-size", 14)
        .attr("fill", "#222")
        .text(yLabels[i]);
});
</script>
</body>
</html>
